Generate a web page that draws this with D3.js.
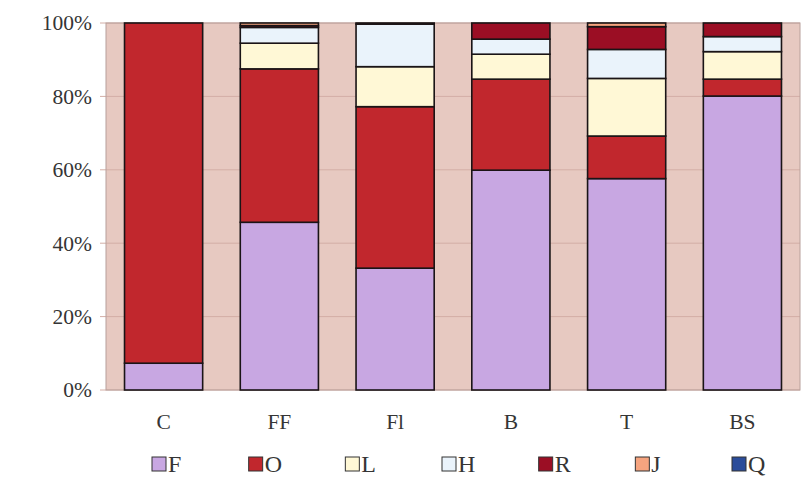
<!DOCTYPE html>
<html>
<head>
<meta charset="utf-8">
<script src="https://cdn.jsdelivr.net/npm/d3@7/dist/d3.min.js"></script>
<style>
  html, body { margin: 0; padding: 0; background: #ffffff; }
  svg { display: block; }
</style>
</head>
<body>
<svg id="chart" width="808" height="486"></svg>
<script>
// Categories along the x axis
const categories = ["C", "FF", "Fl", "B", "T", "BS"];

// Series, stacked bottom to top, values in percent of each bar
const seriesNames = ["F", "O", "L", "H", "R", "J", "Q"];
const F = [7.3, 45.7, 33.2, 59.9, 57.6, 80.1];
const O = [92.7, 41.8, 44.0, 24.8, 11.6, 4.6];
const L = [0.0, 7.0, 10.9, 6.8, 15.7, 7.5];
const H = [0.0, 4.3, 11.6, 4.1, 7.9, 4.1];
const R = [0.0, 0.5, 0.3, 4.4, 6.2, 3.7];
const J = [0.0, 0.7, 0.0, 0.0, 1.0, 0.0];
const Q = [0.0, 0.0, 0.0, 0.0, 0.0, 0.0];
const seriesColors = ["#c8a7e2", "#c1272d", "#fff8d6", "#eaf3fb", "#9b0e24", "#f6a47f", "#2b4c9a"];

// Y axis ticks
const yTicks = [0, 20, 40, 60, 80, 100];
const yTickLabels = ["0%", "20%", "40%", "60%", "80%", "100%"];

const values = [F, O, L, H, R, J, Q];
const rows = categories.map((c, i) => {
  const row = { cat: c };
  seriesNames.forEach((s, k) => { row[s] = values[k][i]; });
  return row;
});

const svg = d3.select("#chart");
const plot = { left: 106, right: 800, top: 23, bottom: 390 };
const serif = "'Liberation Serif', 'Times New Roman', serif";

const x = d3.scaleBand()
  .domain(categories)
  .range([plot.left, plot.right])
  .paddingInner(0.325)
  .paddingOuter(0.16);

const y = d3.scaleLinear()
  .domain([0, 100])
  .range([plot.bottom, plot.top]);

const color = d3.scaleOrdinal().domain(seriesNames).range(seriesColors);

// Plot background
svg.append("rect")
  .attr("x", plot.left).attr("y", plot.top)
  .attr("width", plot.right - plot.left)
  .attr("height", plot.bottom - plot.top)
  .attr("fill", "#e7c9c1");

// Gridlines with short outer tick marks
svg.append("g")
  .selectAll("line")
  .data(yTicks)
  .join("line")
  .attr("x1", plot.left - 6)
  .attr("x2", plot.right)
  .attr("y1", d => y(d))
  .attr("y2", d => y(d))
  .attr("stroke", "#d3aea6")
  .attr("stroke-width", 1);

// Plot border
svg.append("rect")
  .attr("x", plot.left).attr("y", plot.top)
  .attr("width", plot.right - plot.left)
  .attr("height", plot.bottom - plot.top)
  .attr("fill", "none")
  .attr("stroke", "#b8a09b")
  .attr("stroke-width", 1);

// Stacked bars
const stack = d3.stack().keys(seriesNames);
const layers = stack(rows);

svg.append("g")
  .selectAll("g")
  .data(layers)
  .join("g")
  .attr("fill", d => color(d.key))
  .selectAll("rect")
  .data(d => d.filter(p => p[1] - p[0] > 0))
  .join("rect")
  .attr("x", d => x(d.data.cat))
  .attr("width", x.bandwidth())
  .attr("y", d => y(d[1]))
  .attr("height", d => y(d[0]) - y(d[1]))
  .attr("stroke", "#1a1416")
  .attr("stroke-width", 1.6);

// Y axis labels
const yAxis = d3.axisLeft(y)
  .tickValues(yTicks)
  .tickFormat((d, i) => yTickLabels[i])
  .tickSize(0)
  .tickPadding(14);

const gy = svg.append("g")
  .attr("transform", `translate(${plot.left},0)`)
  .call(yAxis);
gy.select(".domain").remove();
gy.selectAll("text")
  .attr("font-family", serif)
  .attr("font-size", 21.5)
  .attr("fill", "#353535");

// X axis labels
const xAxis = d3.axisBottom(x).tickSize(0).tickPadding(24);
const gx = svg.append("g")
  .attr("transform", `translate(0,${plot.bottom})`)
  .call(xAxis);
gx.select(".domain").remove();
gx.selectAll("text")
  .attr("font-family", serif)
  .attr("font-size", 21.5)
  .attr("fill", "#353535");

// Legend
const legendX = d3.scalePoint()
  .domain(seriesNames)
  .range([152, 732]);

const legend = svg.append("g")
  .selectAll("g")
  .data(seriesNames)
  .join("g")
  .attr("transform", d => `translate(${legendX(d)},457)`);

legend.append("rect")
  .attr("width", 14).attr("height", 14)
  .attr("fill", d => color(d))
  .attr("stroke", "#333333")
  .attr("stroke-width", 1);

legend.append("text")
  .attr("x", 16)
  .attr("y", 15)
  .attr("font-family", serif)
  .attr("font-size", 24)
  .attr("fill", "#353535")
  .text(d => d);
</script>
</body>
</html>
